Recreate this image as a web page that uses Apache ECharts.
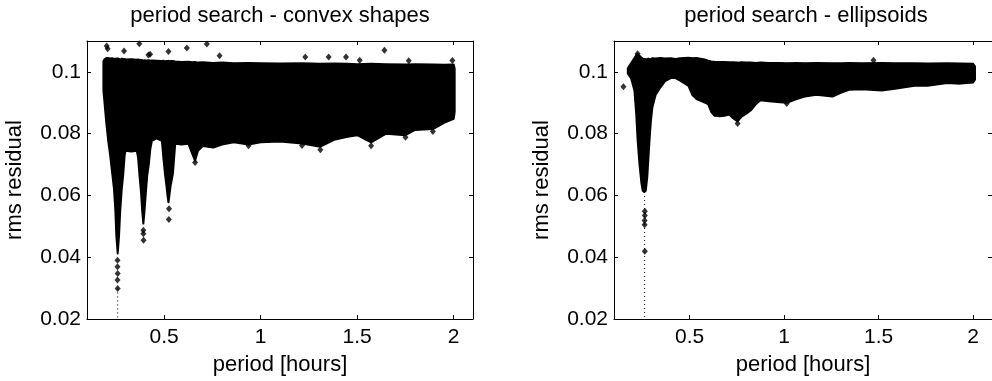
<!DOCTYPE html>
<html><head><meta charset="utf-8">
<script src="https://cdn.jsdelivr.net/npm/echarts@6/dist/echarts.min.js"></script>
<style>html,body{margin:0;padding:0;background:#fff}#c{width:992px;height:381px}</style>
</head><body><div id="c"></div>
<script>
const titles = ['period search - convex shapes', 'period search - ellipsoids'];
const xName = 'period [hours]';
const yName = 'rms residual';
const xTicks = [0.5, 1, 1.5, 2];
const yTicks = [0.02, 0.04, 0.06, 0.08, 0.1];

// convex shapes: envelope of the dense point cloud
const convexX = [0.185,0.190,0.200,0.210,0.220,0.231,0.240,0.247,0.252,0.259,0.266,0.272,0.280,0.288,0.295,0.300,0.330,0.358,0.365,0.372,0.380,0.386,0.392,0.398,0.405,0.412,0.420,0.428,0.436,0.460,0.488,0.496,0.504,0.512,0.517,0.522,0.527,0.533,0.545,0.557,0.590,0.626,0.645,0.660,0.675,0.700,0.754,0.800,0.860,0.937,1.000,1.100,1.214,1.309,1.380,1.450,1.500,1.572,1.650,1.750,1.800,1.892,1.950,2.000,2.005];
const convexLower = [0.0940,0.0905,0.0835,0.0777,0.0730,0.0670,0.0620,0.0550,0.0470,0.0412,0.0470,0.0550,0.0620,0.0670,0.0730,0.0745,0.0742,0.0745,0.0720,0.0665,0.0610,0.0550,0.0509,0.0550,0.0610,0.0665,0.0700,0.0750,0.0777,0.0785,0.0777,0.0720,0.0670,0.0630,0.0600,0.0578,0.0600,0.0630,0.0670,0.0767,0.0765,0.0767,0.0735,0.0712,0.0745,0.0760,0.0755,0.0765,0.0772,0.0765,0.0772,0.0775,0.0768,0.0758,0.0780,0.0790,0.0795,0.0772,0.0800,0.0795,0.0812,0.0815,0.0835,0.0848,0.0870];
const convexUpper = [0.1035,0.1040,0.1045,0.1045,0.1043,0.1044,0.1042,0.1043,0.1042,0.1044,0.1042,0.1040,0.1043,0.1041,0.1042,0.1040,0.1041,0.1039,0.1040,0.1038,0.1039,0.1038,0.1037,0.1038,0.1037,0.1037,0.1038,0.1036,0.1037,0.1036,0.1035,0.1036,0.1034,0.1035,0.1035,0.1036,0.1034,0.1035,0.1035,0.1034,0.1032,0.1033,0.1031,0.1032,0.1030,0.1031,0.1029,0.1030,0.1028,0.1029,0.1028,0.1027,0.1028,0.1026,0.1027,0.1026,0.1025,0.1026,0.1025,0.1024,0.1025,0.1024,0.1023,0.1024,0.1010];
const convexOutliers = [[0.202,0.1084],[0.207,0.1075],[0.292,0.1068],[0.371,0.1091],[0.418,0.1055],[0.427,0.1057],[0.522,0.1066],[0.617,0.1077],[0.721,0.1090],[0.787,0.1052],[1.231,0.1048],[1.352,0.1048],[1.442,0.1048],[1.513,0.1038],[1.641,0.1070],[1.767,0.1036],[1.993,0.1037],[0.258,0.0390],[0.258,0.0369],[0.259,0.0347],[0.258,0.0326],[0.259,0.0299],[0.392,0.0487],[0.392,0.0476],[0.393,0.0455],[0.525,0.0557],[0.524,0.0522],[0.660,0.0707],[0.937,0.0761],[1.214,0.0762],[1.309,0.0748],[1.572,0.0761],[1.750,0.0788],[1.892,0.0807]];
const convexTail = [[0.259,0.0299],[0.259,0.0200]];

// ellipsoids
const ellX = [0.173,0.190,0.208,0.218,0.225,0.235,0.245,0.252,0.260,0.268,0.276,0.282,0.288,0.295,0.303,0.320,0.346,0.370,0.400,0.425,0.450,0.494,0.515,0.537,0.580,0.598,0.615,0.632,0.660,0.684,0.710,0.730,0.754,0.775,0.800,0.823,0.850,0.875,0.920,0.980,1.014,1.066,1.110,1.170,1.256,1.300,1.343,1.412,1.517,1.586,1.690,1.759,1.863,1.933,2.000,2.010];
const ellLower = [0.0995,0.0980,0.0940,0.0860,0.0780,0.0700,0.0640,0.0615,0.0611,0.0615,0.0660,0.0720,0.0780,0.0840,0.0885,0.0925,0.0950,0.0970,0.0980,0.0980,0.0972,0.0955,0.0925,0.0912,0.0901,0.0896,0.0870,0.0858,0.0856,0.0858,0.0862,0.0850,0.0840,0.0855,0.0865,0.0875,0.0895,0.0908,0.0905,0.0902,0.0900,0.0912,0.0920,0.0926,0.0920,0.0932,0.0942,0.0944,0.0940,0.0945,0.0955,0.0955,0.0964,0.0962,0.0966,0.0975];
const ellUpper = [0.1012,0.1028,0.1045,0.1055,0.1058,0.1052,0.1046,0.1043,0.1042,0.1041,0.1042,0.1043,0.1041,0.1042,0.1044,0.1043,0.1045,0.1043,0.1044,0.1042,0.1044,0.1046,0.1044,0.1045,0.1040,0.1036,0.1034,0.1033,0.1032,0.1032,0.1031,0.1031,0.1030,0.1031,0.1030,0.1030,0.1029,0.1030,0.1029,0.1029,0.1028,0.1029,0.1028,0.1029,0.1028,0.1028,0.1029,0.1028,0.1029,0.1028,0.1028,0.1027,0.1028,0.1027,0.1026,0.1018];
const ellOutliers = [[0.150,0.0952],[0.225,0.1059],[0.263,0.0549],[0.263,0.0535],[0.262,0.0519],[0.262,0.0505],[0.263,0.0419],[0.754,0.0833],[1.014,0.0898],[1.473,0.1038]];
const ellTail = [[0.262,0.0611],[0.262,0.0200]];

const FONT = 'Liberation Sans, Arial, Helvetica, sans-serif';
const FS = 21;
const NFS = 22;
const chart = echarts.init(document.getElementById('c'));

function xAxes(gi) {
  const common = {gridIndex: gi, type: 'value', min: 0.1, max: 2.1, z: 10,
    axisLine: {show: true, onZero: false, lineStyle: {color: '#000', width: 1}},
    axisTick: {show: true, inside: true, length: 4, customValues: xTicks, lineStyle: {color: '#000', width: 1}},
    splitLine: {show: false}};
  return [
    Object.assign({}, common, {position: 'bottom', name: xName, nameLocation: 'middle', nameGap: 35,
      nameTextStyle: {fontSize: NFS, color: '#000', fontFamily: FONT},
      axisLabel: {show: true, customValues: xTicks, fontSize: FS, color: '#000', fontFamily: FONT, margin: 8, formatter: v => String(v)}}),
    Object.assign({}, common, {position: 'top', axisLabel: {show: false}})
  ];
}
function yAxes(gi) {
  const common = {gridIndex: gi, type: 'value', min: 0.02, max: 0.11, z: 10,
    axisLine: {show: true, onZero: false, lineStyle: {color: '#000', width: 1}},
    axisTick: {show: true, inside: true, length: 4, customValues: yTicks, lineStyle: {color: '#000', width: 1}},
    splitLine: {show: false}};
  return [
    Object.assign({}, common, {position: 'left', name: yName, nameLocation: 'middle', nameRotate: 90, nameGap: 61,
      nameTextStyle: {fontSize: NFS, color: '#000', fontFamily: FONT},
      axisLabel: {show: true, customValues: yTicks, fontSize: FS, color: '#000', fontFamily: FONT, margin: 6, formatter: v => String(v)}}),
    Object.assign({}, common, {position: 'right', axisLabel: {show: false}})
  ];
}
function bandSeries(gi, xs, lo, up) {
  return {
    type: 'custom', coordinateSystem: 'cartesian2d', xAxisIndex: gi * 2, yAxisIndex: gi * 2,
    data: [[xs[0], up[0]]], silent: true, z: 2,
    renderItem: function (params, api) {
      const pts = [];
      for (let i = 0; i < xs.length; i++) pts.push(api.coord([xs[i], up[i]]));
      for (let i = xs.length - 1; i >= 0; i--) pts.push(api.coord([xs[i], lo[i]]));
      return {type: 'polygon', shape: {points: pts}, style: {fill: '#000', stroke: '#000', lineWidth: 2, lineJoin: 'round'}};
    }
  };
}
function outlierSeries(gi, pts) {
  return {type: 'scatter', xAxisIndex: gi * 2, yAxisIndex: gi * 2, data: pts, symbol: 'diamond',
    symbolSize: [6, 7], itemStyle: {color: '#000'}, silent: true, z: 3};
}
function tailSeries(gi, pts) {
  return {type: 'line', xAxisIndex: gi * 2, yAxisIndex: gi * 2, data: pts, symbol: 'none', silent: true, z: 3,
    lineStyle: {color: '#000', width: 1, type: [1, 3]}};
}

chart.setOption({
  animation: false,
  backgroundColor: '#fff',
  title: [
    {text: titles[0], left: 280, top: 5, textAlign: 'center', padding: 0,
      textStyle: {fontSize: 22, fontWeight: 'normal', color: '#000', fontFamily: FONT}},
    {text: titles[1], left: 806, top: 5, textAlign: 'center', padding: 0,
      textStyle: {fontSize: 22, fontWeight: 'normal', color: '#000', fontFamily: FONT}}
  ],
  grid: [
    {left: 87, top: 41, width: 386, height: 278, containLabel: false},
    {left: 614, top: 41, width: 384, height: 278, containLabel: false}
  ],
  xAxis: xAxes(0).concat(xAxes(1)),
  yAxis: yAxes(0).concat(yAxes(1)),
  series: [
    bandSeries(0, convexX, convexLower, convexUpper),
    outlierSeries(0, convexOutliers),
    tailSeries(0, convexTail),
    bandSeries(1, ellX, ellLower, ellUpper),
    outlierSeries(1, ellOutliers),
    tailSeries(1, ellTail)
  ]
});
</script></body></html>
